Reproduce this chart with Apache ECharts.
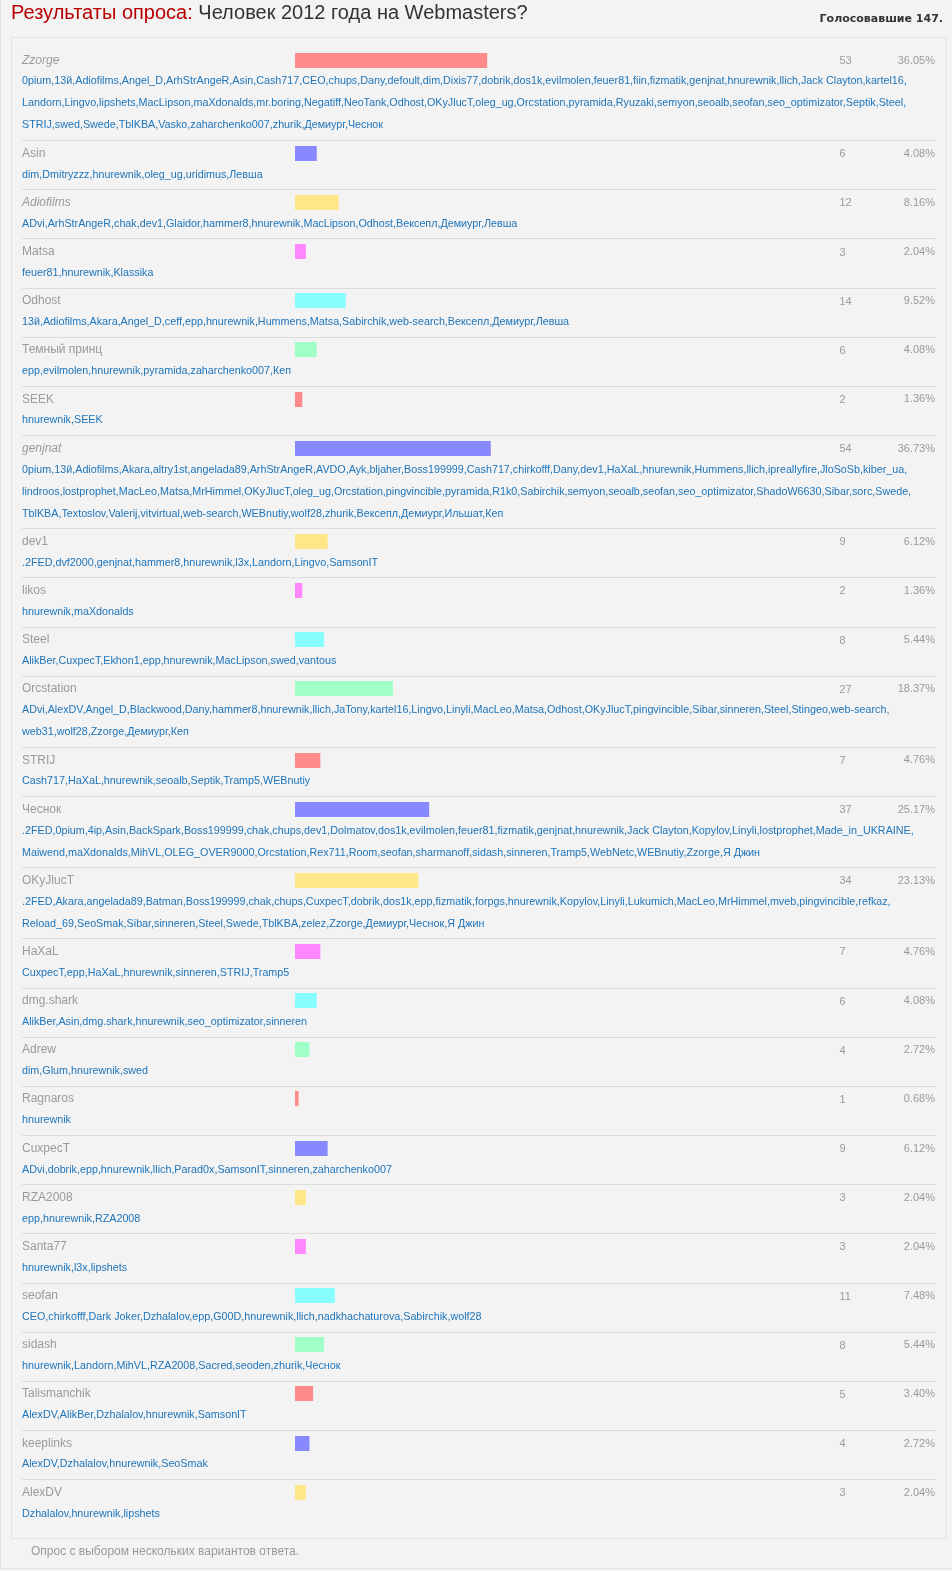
<!DOCTYPE html>
<html><head><meta charset="utf-8">
<script src="https://cdn.jsdelivr.net/npm/echarts@6/dist/echarts.min.js"></script>
<style>html,body{margin:0;padding:0;background:#f3f3f3;}#c{width:952px;height:1571px;}</style>
</head><body><div id="c"></div>
<script>
// ---- data ----
const options = ['Zzorge','Asin','Adiofilms','Matsa','Odhost','Темный принц','SEEK','genjnat','dev1','likos','Steel','Orcstation','STRIJ','Чеснок','OKyJlucT','HaXaL','dmg.shark','Adrew','Ragnaros','CuxpecT','RZA2008','Santa77','seofan','sidash','Talismanchik','keeplinks','AlexDV'];
const votes = [53,6,12,3,14,6,2,54,9,2,8,27,7,37,34,7,6,4,1,9,3,3,11,8,5,4,3];
const percents = [36.05,4.08,8.16,2.04,9.52,4.08,1.36,36.73,6.12,1.36,5.44,18.37,4.76,25.17,23.13,4.76,4.08,2.72,0.68,6.12,2.04,2.04,7.48,5.44,3.40,2.72,2.04];
const voters = [
 ['0pium,13й,Adiofilms,Angel_D,ArhStrAngeR,Asin,Cash717,CEO,chups,Dany,defoult,dim,Dixis77,dobrik,dos1k,evilmolen,feuer81,fiin,fizmatik,genjnat,hnurewnik,llich,Jack Clayton,kartel16,',
  'Landorn,Lingvo,lipshets,MacLipson,maXdonalds,mr.boring,Negatiff,NeoTank,Odhost,OKyJlucT,oleg_ug,Orcstation,pyramida,Ryuzaki,semyon,seoalb,seofan,seo_optimizator,Septik,Steel,',
  'STRIJ,swed,Swede,TblKBA,Vasko,zaharchenko007,zhurik,Демиург,Чеснок'],
 ['dim,Dmitryzzz,hnurewnik,oleg_ug,uridimus,Левша'],
 ['ADvi,ArhStrAngeR,chak,dev1,Glaidor,hammer8,hnurewnik,MacLipson,Odhost,Вексепл,Демиург,Левша'],
 ['feuer81,hnurewnik,Klassika'],
 ['13й,Adiofilms,Akara,Angel_D,ceff,epp,hnurewnik,Hummens,Matsa,Sabirchik,web-search,Вексепл,Демиург,Левша'],
 ['epp,evilmolen,hnurewnik,pyramida,zaharchenko007,Кеп'],
 ['hnurewnik,SEEK'],
 ['0pium,13й,Adiofilms,Akara,altry1st,angelada89,ArhStrAngeR,AVDO,Ayk,bljaher,Boss199999,Cash717,chirkofff,Dany,dev1,HaXaL,hnurewnik,Hummens,llich,ipreallyfire,JloSoSb,kiber_ua,',
  'lindroos,lostprophet,MacLeo,Matsa,MrHimmel,OKyJlucT,oleg_ug,Orcstation,pingvincible,pyramida,R1k0,Sabirchik,semyon,seoalb,seofan,seo_optimizator,ShadoW6630,Sibar,sorc,Swede,',
  'TblKBA,Textoslov,Valerij,vitvirtual,web-search,WEBnutiy,wolf28,zhurik,Вексепл,Демиург,Ильшат,Кеп'],
 ['.2FED,dvf2000,genjnat,hammer8,hnurewnik,l3x,Landorn,Lingvo,SamsonIT'],
 ['hnurewnik,maXdonalds'],
 ['AlikBer,CuxpecT,Ekhon1,epp,hnurewnik,MacLipson,swed,vantous'],
 ['ADvi,AlexDV,Angel_D,Blackwood,Dany,hammer8,hnurewnik,llich,JaTony,kartel16,Lingvo,Linyli,MacLeo,Matsa,Odhost,OKyJlucT,pingvincible,Sibar,sinneren,Steel,Stingeo,web-search,',
  'web31,wolf28,Zzorge,Демиург,Кеп'],
 ['Cash717,HaXaL,hnurewnik,seoalb,Septik,Tramp5,WEBnutiy'],
 ['.2FED,0pium,4ip,Asin,BackSpark,Boss199999,chak,chups,dev1,Dolmatov,dos1k,evilmolen,feuer81,fizmatik,genjnat,hnurewnik,Jack Clayton,Kopylov,Linyli,lostprophet,Made_in_UKRAINE,',
  'Maiwend,maXdonalds,MihVL,OLEG_OVER9000,Orcstation,Rex711,Room,seofan,sharmanoff,sidash,sinneren,Tramp5,WebNetc,WEBnutiy,Zzorge,Я Джин'],
 ['.2FED,Akara,angelada89,Batman,Boss199999,chak,chups,CuxpecT,dobrik,dos1k,epp,fizmatik,forpgs,hnurewnik,Kopylov,Linyli,Lukumich,MacLeo,MrHimmel,mveb,pingvincible,refkaz,',
  'Reload_69,SeoSmak,Sibar,sinneren,Steel,Swede,TblKBA,zelez,Zzorge,Демиург,Чеснок,Я Джин'],
 ['CuxpecT,epp,HaXaL,hnurewnik,sinneren,STRIJ,Tramp5'],
 ['AlikBer,Asin,dmg.shark,hnurewnik,seo_optimizator,sinneren'],
 ['dim,Glum,hnurewnik,swed'],
 ['hnurewnik'],
 ['ADvi,dobrik,epp,hnurewnik,llich,Parad0x,SamsonIT,sinneren,zaharchenko007'],
 ['epp,hnurewnik,RZA2008'],
 ['hnurewnik,l3x,lipshets'],
 ['CEO,chirkofff,Dark Joker,Dzhalalov,epp,G00D,hnurewnik,llich,nadkhachaturova,Sabirchik,wolf28'],
 ['hnurewnik,Landorn,MihVL,RZA2008,Sacred,seoden,zhurik,Чеснок'],
 ['AlexDV,AlikBer,Dzhalalov,hnurewnik,SamsonIT'],
 ['AlexDV,Dzhalalov,hnurewnik,SeoSmak'],
 ['Dzhalalov,hnurewnik,lipshets']
];
const italicOptions = ['Zzorge','Adiofilms','genjnat'];
const totalVoters = 147;
const headLabel = 'Результаты опроса:';
const pollTitle = 'Человек 2012 года на Webmasters?';
const footNote = 'Опрос с выбором нескольких вариантов ответа.';

// ---- styles / layout ----
const palette = ['#ff8a8a','#8888ff','#ffe788','#ff88ff','#88ffff','#a0ffc6'];
const FONT = '"Liberation Sans", Arial, sans-serif';
const nameColor = '#2076bb';
const greyColor = '#9a9a9a';

// fit names font to the reference line width
let nameSize = 11;
try {
  const cv = document.createElement('canvas').getContext('2d');
  cv.font = '11px ' + FONT;
  const w = cv.measureText(voters[0][0]).width;
  if (w > 0) nameSize = Math.max(10, Math.min(12, 11 * 885 / w));
} catch (e) {}

const ROW1 = 49.16, LINE = 22, Y0 = 47;
const BAR_LEFT = 295, BAR_W = 533, BAR_H = 15;

const chart = echarts.init(document.getElementById('c'), null, {renderer: 'canvas'});
const grids = [], xAxes = [], yAxes = [], series = [];
const graphics = [];

function txt(x, y, text, font, fill, align) {
  return {type: 'text', x: x, y: y, silent: true, z: 10,
    style: {text: text, font: font, fill: fill, textAlign: align || 'left', align: align || 'left',
      textVerticalAlign: 'middle', verticalAlign: 'middle'}};
}

// page frame
graphics.push({type: 'rect', shape: {x: 0.5, y: -2, width: 960, height: 1570.5}, style: {fill: '#f3f3f3', stroke: '#e2e2e2', lineWidth: 1}, z: 0, silent: true});
graphics.push({type: 'rect', shape: {x: 11.5, y: 37.5, width: 934.5, height: 1501}, style: {fill: '#f3f3f3', stroke: '#e3e3e3', lineWidth: 1}, z: 1, silent: true});

// header
graphics.push({type: 'text', x: 11, y: 13.5, silent: true, z: 10, style: {
  text: '{r|' + headLabel + '} {d|' + pollTitle + '}', font: '20px ' + FONT,
  textVerticalAlign: 'middle', verticalAlign: 'middle',
  rich: {r: {fill: '#b80000', font: '20px ' + FONT}, d: {fill: '#333333', font: '20px ' + FONT}}}});
graphics.push(txt(943, 19.5, 'Голосовавшие ' + totalVoters + '.', 'bold 11px "DejaVu Sans", Verdana, sans-serif', '#333333', 'right'));

let y = Y0;
options.forEach(function (name, i) {
  const lines = voters[i];
  if (i > 0) {
    graphics.push({type: 'line', shape: {x1: 22, y1: Math.round(y) + 0.5, x2: 936, y2: Math.round(y) + 0.5}, style: {stroke: '#dcdcdc', lineWidth: 1}, z: 2, silent: true});
  }
  const italic = italicOptions.indexOf(name) >= 0;
  graphics.push(txt(22, y + 13.3, name, (italic ? 'italic ' : '') + '12px ' + FONT, greyColor));
  graphics.push(txt(839.5, y + 14, String(votes[i]), '11px ' + FONT, greyColor));
  graphics.push(txt(935, y + 13.5, percents[i].toFixed(2) + '%', '11px ' + FONT, greyColor, 'right'));
  lines.forEach(function (ln, k) {
    graphics.push(txt(22, y + 34.5 + LINE * k, ln, nameSize.toFixed(2) + 'px ' + FONT, nameColor));
  });
  grids.push({left: BAR_LEFT, top: Math.round(y + 5.6), width: BAR_W, height: BAR_H, containLabel: false});
  xAxes.push({gridIndex: i, type: 'value', min: 0, max: 100, show: false});
  yAxes.push({gridIndex: i, type: 'category', data: [name], show: false});
  series.push({type: 'bar', xAxisIndex: i, yAxisIndex: i, data: [percents[i]], barWidth: BAR_H,
    itemStyle: {color: palette[i % palette.length]}, silent: true, z: 5});
  y += ROW1 + LINE * (lines.length - 1);
});

graphics.push(txt(31, 1551.5, footNote, '12px ' + FONT, greyColor));

chart.setOption({
  animation: false,
  backgroundColor: '#f3f3f3',
  grid: grids, xAxis: xAxes, yAxis: yAxes, series: series,
  graphic: {elements: graphics}
});
</script></body></html>
